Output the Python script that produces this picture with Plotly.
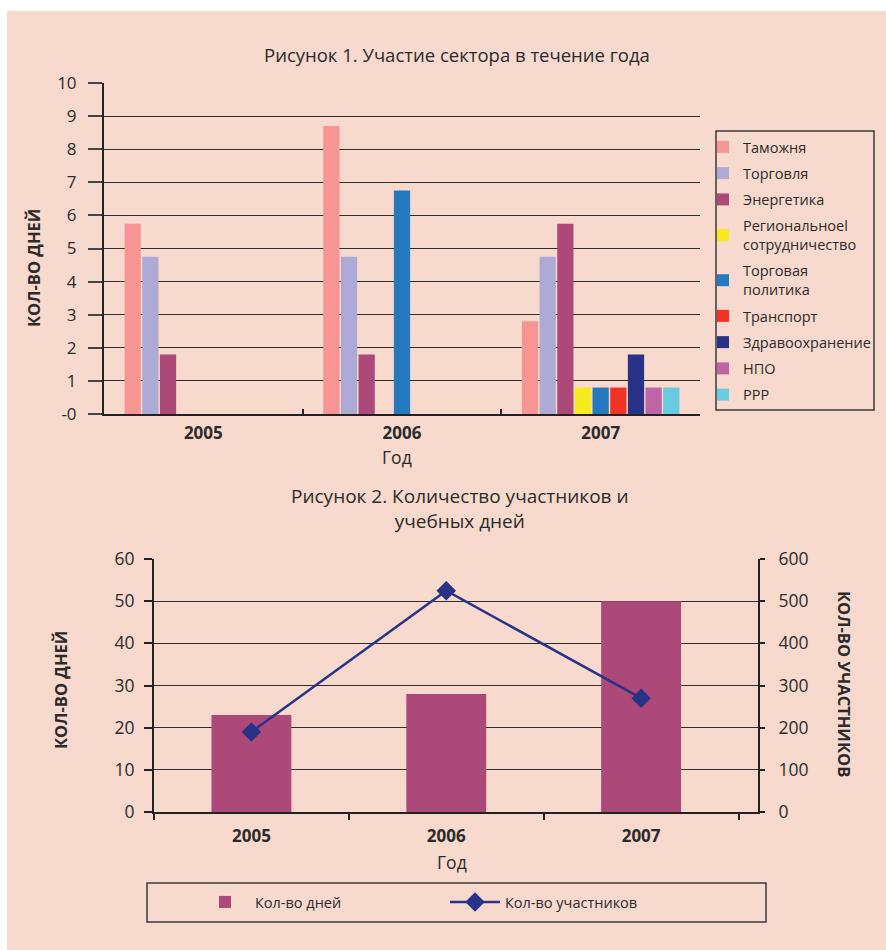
import plotly.graph_objects as go

W, H = 886, 950

# ---------- data ----------
years = ["2005", "2006", "2007"]
sectors = ["Таможня", "Торговля", "Энергетика", "Региональноеl<br>сотрудничество",
           "Торговая<br>политика", "Транспорт", "Здравоохранение", "НПО", "РРР"]
sector_values = [
    [5.75, 8.7, 2.8],    # Таможня
    [4.75, 4.75, 4.75],  # Торговля
    [1.8, 1.8, 5.75],    # Энергетика
    [0, 0, 0.8],         # Региональное сотрудничество
    [0, 6.75, 0.8],      # Торговая политика
    [0, 0, 0.8],         # Транспорт
    [0, 0, 1.8],         # Здравоохранение
    [0, 0, 0.8],         # НПО
    [0, 0, 0.8],         # РРР
]
sector_colors = ["#F79494", "#ADABD6", "#AD4978", "#F5EB1D", "#2479BF",
                 "#F03325", "#283286", "#C064A8", "#68CBDF"]
y1_ticks = list(range(0, 11))
y1_ticktext = ["-0"] + [str(v) for v in range(1, 11)]

days = [23, 28, 50]
participants = [190, 525, 270]
y2_ticks = list(range(0, 61, 10))
y3_ticks = list(range(0, 601, 100))

FONT = "Open Sans"
TXT = "#2b2b2b"
BG = "#F7D9CD"
GRID = "#2e2e2e"

def px(x):
    return x / W

def py(y):
    return 1 - y / H

fig = go.Figure()

for name, vals, col in zip(sectors, sector_values, sector_colors):
    fig.add_trace(go.Bar(x=years, y=vals, name=name, marker=dict(color=col, line=dict(width=0)),
                         xaxis="x", yaxis="y", legend="legend", legendgroup=name))

fig.add_trace(go.Bar(x=years, y=days, name="Кол-во дней", width=0.41,
                     marker=dict(color="#AD4978", line=dict(width=0)),
                     xaxis="x2", yaxis="y2", legend="legend2"))
fig.add_trace(go.Scatter(x=years, y=participants, name="Кол-во участников", mode="lines+markers",
                         line=dict(color="#283286", width=2.5),
                         marker=dict(symbol="diamond", size=15, color="#283286"),
                         xaxis="x2", yaxis="y3", legend="legend2"))

axis_common = dict(showline=True, linecolor="#222", linewidth=2, color=TXT, automargin=False)

def note(text, x, y, size, bold=False, angle=0):
    f = dict(size=size)
    if bold:
        f["weight"] = "bold"
    return dict(text=text, x=px(x), y=py(y), xref="paper", yref="paper", showarrow=False,
                xanchor="center", yanchor="middle", textangle=angle, font=f)

fig.update_layout(
    width=W, height=H, margin=dict(l=0, r=0, t=0, b=0, pad=0, autoexpand=False),
    paper_bgcolor="white", plot_bgcolor="rgba(0,0,0,0)",
    font=dict(family=FONT, color=TXT, size=13),
    barmode="group", bargap=0.2, bargroupgap=0.08,
    xaxis=dict(domain=[px(104), px(700)], anchor="y", range=[-0.5, 2.5], type="category",
               tickson="boundaries", ticks="inside", ticklen=5, tickcolor="#222", tickwidth=2,
               ticklabelstandoff=3, tickfont=dict(size=17, weight="bold"), showgrid=False,
               **axis_common),
    yaxis=dict(domain=[py(414), py(83)], anchor="x", range=[0, 10], tickvals=y1_ticks,
               ticktext=y1_ticktext, ticks="outside", ticklen=14, tickcolor="#444", tickwidth=1.5,
               ticklabelstandoff=8, tickfont=dict(size=17), showgrid=True, gridcolor=GRID,
               gridwidth=1.4, zeroline=False, **axis_common),
    xaxis2=dict(domain=[px(154), px(758)], anchor="y2", range=[-0.5, 2.6], type="category",
                tickson="boundaries", ticks="outside", ticklen=6, tickcolor="#222", tickwidth=2,
                ticklabelstandoff=8, tickfont=dict(size=17, weight="bold"), showgrid=False,
                **axis_common),
    yaxis2=dict(domain=[py(812), py(559)], anchor="x2", range=[0, 60], tickvals=y2_ticks,
                ticks="outside", ticklen=8, tickcolor="#222", tickwidth=1.5,
                ticklabelstandoff=6, tickfont=dict(size=17.5), showgrid=True, gridcolor=GRID,
                gridwidth=1.4, zeroline=False, **axis_common),
    yaxis3=dict(overlaying="y2", anchor="x2", side="right", range=[0, 600], tickvals=y3_ticks,
                ticks="outside", ticklen=5, tickcolor="#222", tickwidth=1.5,
                ticklabelstandoff=10, tickfont=dict(size=17.5), showgrid=False, zeroline=False,
                **axis_common),
    legend=dict(x=px(703), y=py(131), xanchor="left", yanchor="top", bgcolor="rgba(0,0,0,0)",
                borderwidth=0, font=dict(size=14.5, color=TXT), traceorder="grouped",
                tracegroupgap=4.4, itemclick=False),
    legend2=dict(x=px(195), y=py(902), xanchor="left", yanchor="middle", orientation="h",
                 bgcolor="rgba(0,0,0,0)", borderwidth=0, font=dict(size=14.5, color=TXT),
                 entrywidth=185, entrywidthmode="pixels", itemwidth=50, itemclick=False),
    shapes=[
        dict(type="rect", xref="paper", yref="paper", x0=px(7), x1=1, y0=0, y1=py(11),
             fillcolor=BG, line=dict(width=0), layer="below"),
        dict(type="rect", xref="paper", yref="paper", x0=px(716), x1=px(874), y0=py(410), y1=py(131),
             line=dict(color="#3a3a3a", width=1.5), fillcolor="rgba(0,0,0,0)"),
        dict(type="rect", xref="paper", yref="paper", x0=px(147), x1=px(766), y0=py(922), y1=py(883),
             line=dict(color="#3a3a3a", width=1.5), fillcolor="rgba(0,0,0,0)"),
    ],
    annotations=[
        note("Рисунок 1. Участие сектора в течение года", 457, 55, 18.5),
        note("КОЛ-ВО ДНЕЙ", 33, 268, 16.5, bold=True, angle=-90),
        note("Год", 397, 457, 17.5),
        note("Рисунок 2. Количество участников и<br>учебных дней", 460, 509, 19),
        note("КОЛ-ВО ДНЕЙ", 60, 690, 16.5, bold=True, angle=-90),
        note("КОЛ-ВО УЧАСТНИКОВ", 845, 684, 16.5, bold=True, angle=90),
        note("Год", 452, 862, 17.5),
    ],
)

fig.write_html("out.html", config={"displayModeBar": False, "responsive": False},
               post_script="document.body.style.margin='0px';document.documentElement.style.overflow='hidden';")
